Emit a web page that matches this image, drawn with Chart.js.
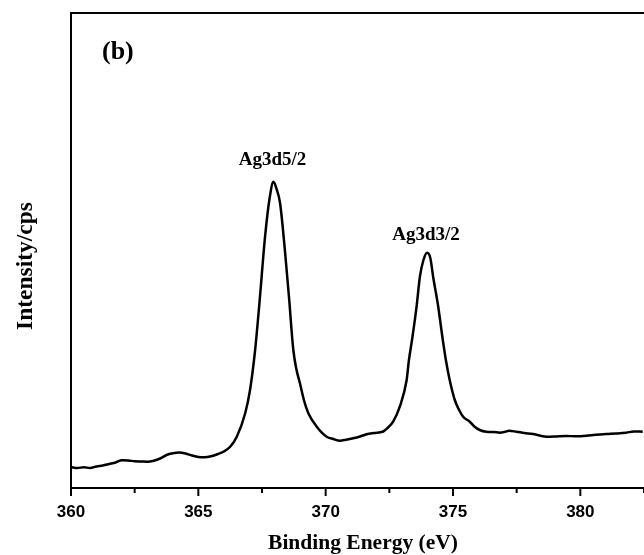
<!DOCTYPE html>
<html>
<head>
<meta charset="utf-8">
<script src="https://cdn.jsdelivr.net/npm/chart.js@4.4.1/dist/chart.umd.min.js"></script>
<style>
  html, body { margin: 0; padding: 0; background: #fff; overflow: hidden; }
</style>
</head>
<body>
<canvas id="xpsChart" width="644" height="555"></canvas>
<script>
// Ag 3d spectrum: binding energy (eV) and intensity (cps)
const bindingEnergy = [
  360.00, 360.25, 360.50, 360.75, 361.00, 361.25, 361.50, 361.75, 362.00, 362.25,
  362.50, 362.75, 363.00, 363.25, 363.50, 363.75, 364.00, 364.25, 364.50, 364.75,
  365.00, 365.25, 365.50, 365.75, 366.00, 366.25, 366.51, 366.84, 367.03, 367.23,
  367.40, 367.62, 367.80, 367.95, 368.06, 368.21, 368.41, 368.57, 368.65, 368.73,
  368.84, 368.99, 369.15, 369.32, 369.65, 370.04, 370.30, 370.56, 370.80, 371.08,
  371.35, 371.61, 371.90, 372.26, 372.45, 372.65, 372.91, 373.18, 373.27, 373.40,
  373.57, 373.70, 373.84, 373.98, 374.11, 374.22, 374.42, 374.59, 374.72, 374.87,
  375.07, 375.25, 375.40, 375.66, 375.85, 376.05, 376.31, 376.60, 376.84, 377.05,
  377.20, 377.49, 377.80, 378.14, 378.40, 378.67, 379.00, 379.45, 379.80, 380.24,
  380.60, 381.02, 381.40, 381.80, 382.10, 382.45
];
const intensity = [
   840,  800,  830,  800,  860,  900,  960, 1020, 1110, 1100,
  1070, 1060, 1050, 1090, 1180, 1320, 1390, 1420, 1380, 1300,
  1240, 1230, 1270, 1350, 1460, 1650, 2052, 2988, 3920, 5520,
  7400, 10052, 11600, 12252, 12000, 11388, 9388, 7520, 6450, 5520,
  4800, 4188, 3500, 2988, 2452, 2052, 1960, 1892, 1930, 1988,
  2060, 2148, 2200, 2260, 2420, 2652, 3252, 4320, 5120, 5988,
  7252, 8452, 9120, 9412, 9200, 8452, 7252, 5988, 5120, 4320,
  3520, 3100, 2852, 2652, 2450, 2320, 2252, 2240, 2212, 2250,
  2290, 2252, 2200, 2160, 2100, 2052, 2060, 2080, 2070, 2092,
  2130, 2160, 2180, 2212, 2260, 2252
];
const xTicks = [360, 365, 370, 375, 380];
const peakLabels = ['Ag3d5/2', 'Ag3d3/2'];
const peakEnergy = [367.95, 373.98];
const peakIntensity = [12252, 9412];

function serif(size) {
  return 'bold ' + size + 'px "Liberation Serif", "Times New Roman", serif';
}

// frame, tick marks and text labels
const decorations = {
  id: 'decorations',
  afterDraw(chart) {
    const ctx = chart.ctx;
    const area = chart.chartArea;
    const xs = chart.scales.x;
    const ys = chart.scales.y;
    ctx.save();
    ctx.strokeStyle = '#000';
    ctx.lineWidth = 2;
    ctx.beginPath();
    ctx.moveTo(area.right + 2, area.top);
    ctx.lineTo(area.left, area.top);
    ctx.lineTo(area.left, area.bottom);
    ctx.lineTo(area.right + 2, area.bottom);
    ctx.stroke();

    // major ticks every 5 eV, minor ticks in between
    xs.ticks.forEach(t => {
      const px = xs.getPixelForValue(t.value);
      const major = xTicks.includes(t.value);
      ctx.beginPath();
      ctx.moveTo(px, area.bottom);
      ctx.lineTo(px, area.bottom + (major ? 8 : 5));
      ctx.stroke();
    });

    ctx.fillStyle = '#000';
    ctx.textAlign = 'center';
    ctx.textBaseline = 'middle';

    ctx.font = serif(19);
    peakLabels.forEach((label, i) => {
      const px = xs.getPixelForValue(peakEnergy[i]);
      const py = ys.getPixelForValue(peakIntensity[i]);
      ctx.fillText(label, px - 1, py - (i === 0 ? 22 : 18));
    });

    ctx.font = serif(26);
    ctx.textAlign = 'left';
    ctx.fillText('(b)', area.left + 31, area.top + 39);

    ctx.textAlign = 'center';
    ctx.font = serif(21.5);
    ctx.fillText('Binding Energy (eV)', 363, 543);

    ctx.translate(26, 266);
    ctx.rotate(-Math.PI / 2);
    ctx.font = serif(23.5);
    ctx.fillText('Intensity/cps', 0, 0);
    ctx.restore();
  }
};

new Chart(document.getElementById('xpsChart'), {
  type: 'line',
  data: {
    datasets: [{
      data: bindingEnergy.map((e, i) => ({ x: e, y: intensity[i] })),
      borderColor: '#000',
      borderWidth: 2.5,
      pointRadius: 0,
      fill: false,
      cubicInterpolationMode: 'monotone'
    }]
  },
  options: {
    responsive: false,
    animation: false,
    layout: { padding: { top: 13, right: 0, left: 0, bottom: 0 } },
    plugins: {
      legend: { display: false },
      tooltip: { enabled: false }
    },
    scales: {
      x: {
        type: 'linear',
        min: 360,
        max: 382.5,
        afterFit(scale) {
          scale.height = 67;
          scale.paddingLeft = 0;
          scale.paddingRight = 0;
        },
        grid: { display: false, drawTicks: false },
        border: { display: false },
        ticks: {
          stepSize: 2.5,
          padding: 14,
          maxRotation: 0,
          autoSkip: false,
          color: '#000',
          font: { family: '"Liberation Sans", Arial, sans-serif', size: 17, weight: 'bold' },
          callback: v => (xTicks.includes(v) ? String(v) : '')
        }
      },
      y: {
        min: 0,
        max: 19000,
        afterFit(scale) { scale.width = 71; },
        grid: { display: false, drawTicks: false },
        border: { display: false },
        ticks: { display: false }
      }
    }
  },
  plugins: [decorations]
});
</script>
</body>
</html>
